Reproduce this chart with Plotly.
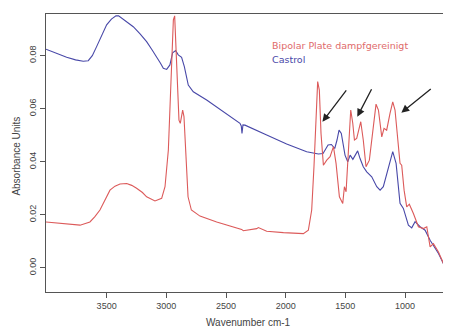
import plotly.graph_objects as go

castrol_wn = [4008, 3920, 3835, 3760, 3696, 3654, 3620, 3584, 3540, 3500, 3460, 3422, 3400, 3374, 3330,
              3277, 3220, 3165, 3120, 3081, 3050, 3025, 2997, 2970, 2947,
              2922, 2900, 2872, 2849, 2816, 2774, 2662, 2494, 2383, 2372, 2366, 2358, 2341, 2159, 1992,
              1824, 1726, 1687, 1645, 1617, 1589, 1570, 1553, 1534, 1503, 1480, 1460, 1437, 1416, 1397,
              1377, 1350, 1321, 1279, 1237, 1209, 1182, 1140, 1103, 1075, 1056, 1042, 1014, 972, 944,
              916, 874, 832, 790, 762, 720, 678, 615]
castrol_abs = [0.0824, 0.0808, 0.0794, 0.0784, 0.0779, 0.0781, 0.0800, 0.0834, 0.0880, 0.0916, 0.0938,
               0.0950, 0.0950, 0.0941, 0.0928, 0.0909, 0.0882, 0.0853, 0.0822, 0.0796, 0.0772,
               0.0752, 0.0748, 0.0765, 0.0811, 0.0819, 0.0803, 0.0794, 0.0759, 0.0689, 0.0664, 0.0633,
               0.0582, 0.0545, 0.0535, 0.0507, 0.0539, 0.0538, 0.0501, 0.0467, 0.0438, 0.0429, 0.0431,
               0.0463, 0.0465, 0.0450, 0.0482, 0.0519, 0.0507, 0.0425, 0.0400, 0.0425, 0.0409, 0.0425,
               0.0441, 0.0412, 0.0381, 0.0362, 0.0343, 0.0306, 0.0293, 0.0306, 0.0381, 0.0438, 0.0394,
               0.0306, 0.0243, 0.0224, 0.0161, 0.0151, 0.0174, 0.0155, 0.0142, 0.0104, 0.0085, 0.0054,
               0.0016, -0.0024]

bipolar_wn = [4008, 3835, 3723, 3640, 3600, 3556, 3510, 3472, 3430, 3388, 3332, 3290, 3249, 3200, 3165,
              3095, 3039, 3011, 2983, 2961,
              2941, 2930, 2922, 2908, 2894, 2883, 2863, 2852, 2838, 2818, 2790, 2718, 2578, 2439, 2369,
              2355, 2300, 2243, 2229, 2159, 2019, 1852, 1810, 1782, 1763, 1746, 1732, 1718, 1704, 1684,
              1656, 1628, 1600, 1578, 1550, 1522, 1508, 1494, 1475, 1455, 1438, 1424, 1405, 1385, 1371,
              1350, 1327, 1299, 1271, 1243, 1223, 1195, 1176, 1154, 1126, 1103, 1084, 1056, 1042, 1028,
              1008, 986, 964, 930, 888, 846, 818, 790, 762, 720, 678, 615]
bipolar_abs = [0.0173, 0.0165, 0.0161, 0.0173, 0.0192, 0.0218, 0.0258, 0.0293, 0.0308, 0.0316, 0.0318,
               0.0311, 0.0300, 0.0284, 0.0268, 0.0252,
               0.0262, 0.0306, 0.0444, 0.0696, 0.0935, 0.0950, 0.0859, 0.0658, 0.0557, 0.0545, 0.0595,
               0.0570, 0.0419, 0.0268, 0.0218, 0.0195, 0.0173, 0.0155, 0.0145, 0.0140, 0.0143, 0.0148,
               0.0152, 0.0138, 0.0133, 0.0129, 0.0142, 0.0218, 0.0381, 0.0570, 0.0702, 0.0670, 0.0507,
               0.0387, 0.0406, 0.0419, 0.0457, 0.0394, 0.0268, 0.0243, 0.0306, 0.0287, 0.0419, 0.0595,
               0.0545, 0.0482, 0.0488, 0.0532, 0.0551, 0.0482, 0.0381, 0.0406, 0.0519, 0.0617, 0.0595,
               0.0494, 0.0526, 0.0519, 0.0582, 0.0626, 0.0595, 0.0457, 0.0394, 0.0387, 0.0293, 0.0230,
               0.0240, 0.0205, 0.0155, 0.0148, 0.0155, 0.0079, 0.0091, 0.0060, 0.0016, -0.0028]

x_ticks = [3500, 3000, 2500, 2000, 1500, 1000]
y_ticks = [0.00, 0.02, 0.04, 0.06, 0.08]
series_names = ["Bipolar Plate dampfgereinigt", "Castrol"]
x_title = "Wavenumber cm-1"
y_title = "Absorbance Units"
# arrows: (head_wn, head_abs, tail_wn, tail_abs)
arrow_heads_wn = [1692, 1400, 1031]
arrow_heads_abs = [0.0551, 0.0570, 0.0585]
arrow_tails_wn = [1483, 1274, 772]
arrow_tails_abs = [0.0675, 0.0679, 0.0679]

RED = "#dc5a5a"
BLUE = "#4848a8"
AXC = "#555555"

fig = go.Figure()
fig.add_trace(go.Scatter(x=castrol_wn, y=castrol_abs, mode="lines", name=series_names[1],
                         line=dict(color=BLUE, width=1.1)))
fig.add_trace(go.Scatter(x=bipolar_wn, y=bipolar_abs, mode="lines", name=series_names[0],
                         line=dict(color=RED, width=1.1)))

for hx, hy, tx, ty in zip(arrow_heads_wn, arrow_heads_abs, arrow_tails_wn, arrow_tails_abs):
    fig.add_annotation(x=hx, y=hy, ax=tx, ay=ty, xref="x", yref="y", axref="x", ayref="y",
                       showarrow=True, arrowhead=2, arrowsize=1.2, arrowwidth=1.3,
                       arrowcolor="#222222", text="")

LEG_FONT = "DejaVu Sans, Verdana, sans-serif"
fig.add_annotation(x=0.553, y=0.888, xref="paper", yref="paper", xanchor="left", yanchor="middle",
                   text=series_names[0], showarrow=False,
                   font=dict(color="#e06a6a", size=9.5, family=LEG_FONT))
fig.add_annotation(x=0.553, y=0.835, xref="paper", yref="paper", xanchor="left", yanchor="middle",
                   text=series_names[1], showarrow=False,
                   font=dict(color=BLUE, size=9.5, family=LEG_FONT))

# axis titles
fig.add_annotation(x=0.5, y=-0.108, xref="paper", yref="paper", xanchor="center", yanchor="middle",
                   text=x_title, showarrow=False, font=dict(size=10, color="#444444"))
fig.add_annotation(x=-0.072, y=0.49, xref="paper", yref="paper", xanchor="center", yanchor="middle",
                   text=y_title, textangle=-90, showarrow=False, font=dict(size=10, color="#444444"))

# the page body adds an 8px margin, so the figure is shrunk by 8px to fit the window
fig.update_layout(
    width=443, height=319,
    margin=dict(l=38, r=0, t=6, b=35),
    paper_bgcolor="white", plot_bgcolor="white",
    showlegend=False,
    font=dict(family="Liberation Sans, Arial, sans-serif", size=9, color="#444444"),
    xaxis=dict(range=[4008, 615], tickvals=x_ticks, ticktext=[str(v) for v in x_ticks],
               automargin=False,
               showgrid=False, zeroline=False, showline=True, linecolor=AXC, linewidth=1,
               mirror=True, ticks="outside", ticklen=5, tickcolor=AXC),
    yaxis=dict(range=[-0.0091, 0.0957], tickvals=y_ticks, ticktext=["%.2f" % v for v in y_ticks],
               automargin=False,
               tickangle=-90, showgrid=False, zeroline=False, showline=True, linecolor=AXC,
               linewidth=1, ticks="outside", ticklen=5, tickcolor=AXC),
)

fig.write_html("out.html")
